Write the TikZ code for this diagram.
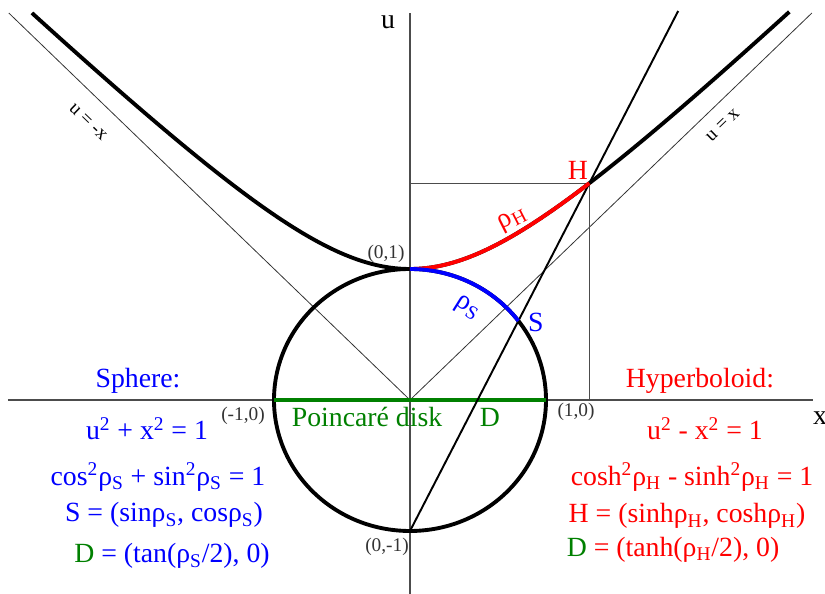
\documentclass[tikz,border=0pt]{standalone}
\usepackage{fontspec}
\setmainfont{Liberation Serif}
\usetikzlibrary{calc}

\begin{document}
\begin{tikzpicture}[xscale=2.72,yscale=2.62,
    biglab/.style={font=\fontsize{15.8}{18}\selectfont},
    ptlab/.style={font=\fontsize{11}{13}\selectfont,black!80},
    thinline/.style={line width=0.45pt,black!80},
    axisline/.style={line width=0.6pt,black!70},
    curve/.style={line width=2.2pt}]
  \useasboundingbox (-3.0147,-1.4809) rectangle (3.0515,3.0534);
  \pgfmathsetmacro{\rh}{1.09}
  \pgfmathsetmacro{\sh}{sinh(\rh)}
  \pgfmathsetmacro{\ch}{cosh(\rh)}
  \pgfmathsetmacro{\td}{tanh(\rh/2)}
  \pgfmathsetmacro{\rs}{2*atan(\td)}
  \coordinate (O) at (0,0);
  \coordinate (N) at (0,1);
  \coordinate (P) at (0,-1);
  \coordinate (W) at (-1,0);
  \coordinate (E) at (1,0);
  \coordinate (H) at (\sh,\ch);
  \coordinate (Hu) at (0,\ch);
  \coordinate (Hx) at (\sh,0);
  \coordinate (S) at ({sin(\rs)},{cos(\rs)});
  \coordinate (D) at (\td,0);
  \coordinate (T) at ($(P)!1.495!(H)$);
  % axes and asymptotes
  \draw[axisline] (-2.956,0) coordinate (xl) -- (2.963,0) coordinate (xr);
  \draw[axisline] (0,-1.481) coordinate (ub) -- (0,2.954) coordinate (ut);
  \draw[thinline] (O) -- (-2.95,2.954);
  \draw[thinline] (O) -- (2.955,2.954);
  \draw[axisline] (Hu) -- (H) -- (Hx);
  % sphere and hyperboloid
  \draw[curve] (O) circle[radius=1];
  \draw[curve,domain=-2.78:2.79,samples=120,smooth] plot ({\x},{sqrt(1+\x*\x)});
  \draw[line width=1.8pt,green!50!black] (W) -- (E);
  \draw[line width=1.1pt] (P) -- (T);
  \draw[curve,red,domain=0:\sh,samples=40,smooth] plot ({\x},{sqrt(1+\x*\x)});
  \draw[curve,blue,domain=0:\rs,samples=40,smooth] plot ({sin(\x)},{cos(\x)});
  % labels on the picture
  \node[biglab] (ulab) at (-0.162,2.885) {u};
  \node[biglab] (xlab) at (3.015,-0.137) {x};
  \node[ptlab] (nlab) at (-0.176,1.115) {(0,1)};
  \node[ptlab] (wlab) at (-1.228,-0.122) {(-1,0)};
  \node[ptlab] (elab) at (1.221,-0.092) {(1,0)};
  \node[ptlab] (plab) at (-0.169,-1.122) {(0,-1)};
  \node[biglab,red] (hlab) at (1.235,1.756) {H};
  \node[biglab,red,rotate=27] (rhlab) at (0.757,1.374) {ρ\textsubscript{H}};
  \node[biglab,blue,rotate=-32] (rslab) at (0.419,0.702) {ρ\textsubscript{S}};
  \node[biglab,blue] (slab) at (0.926,0.595) {S};
  \node[biglab,green!50!black] (dlab) at (0.588,-0.137) {D};
  \node[biglab,green!50!black] (disklab) at (-0.316,-0.13) {Poincaré disk};
  \node[ptlab,black,rotate=-44] (mlab) at (-2.368,2.122) {u = -x};
  \node[ptlab,black,rotate=44] (plab2) at (2.301,2.099) {u = x};
  % sphere column
  \node[biglab,blue,anchor=base] (sph) at (-2.0,0.099) {Sphere:};
  \node[biglab,blue,anchor=base] (sph1) at (-1.934,-0.305) {u\textsuperscript{2} + x\textsuperscript{2} = 1};
  \node[biglab,blue,anchor=base] (sph2) at (-1.853,-0.649) {cos\textsuperscript{2}ρ\textsubscript{S} + sin\textsuperscript{2}ρ\textsubscript{S} = 1};
  \node[biglab,blue,anchor=base] (sph3) at (-1.809,-0.931) {S = (sinρ\textsubscript{S}, cosρ\textsubscript{S})};
  \node[biglab,blue,anchor=base] (sph4) at (-1.75,-1.244) {\textcolor{green!50!black}{D} = (tan(ρ\textsubscript{S}/2), 0)};
  % hyperboloid column
  \node[biglab,red,anchor=base] (hyp) at (2.132,0.099) {Hyperboloid:};
  \node[biglab,red,anchor=base] (hyp1) at (2.169,-0.305) {u\textsuperscript{2} - x\textsuperscript{2} = 1};
  \node[biglab,red,anchor=base] (hyp2) at (2.074,-0.649) {cosh\textsuperscript{2}ρ\textsubscript{H} - sinh\textsuperscript{2}ρ\textsubscript{H} = 1};
  \node[biglab,red,anchor=base] (hyp3) at (2.037,-0.939) {H = (sinhρ\textsubscript{H}, coshρ\textsubscript{H})};
  \node[biglab,red,anchor=base] (hyp4) at (1.934,-1.198) {\textcolor{green!50!black}{D} = (tanh(ρ\textsubscript{H}/2), 0)};
\end{tikzpicture}
\end{document}
